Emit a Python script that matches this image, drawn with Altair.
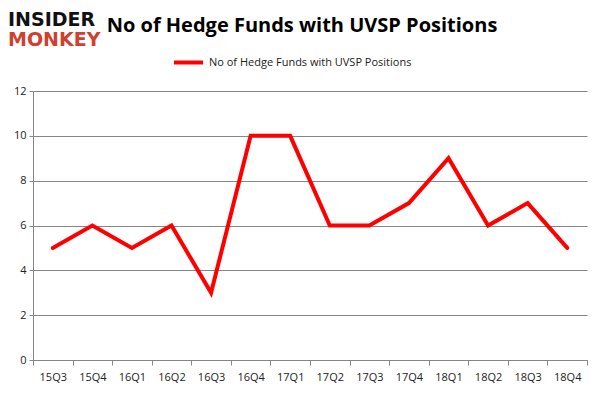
import altair as alt
import pandas as pd

quarters = ["15Q3", "15Q4", "16Q1", "16Q2", "16Q3", "16Q4", "17Q1",
            "17Q2", "17Q3", "17Q4", "18Q1", "18Q2", "18Q3", "18Q4"]
funds = [5, 6, 5, 6, 3, 10, 10, 6, 6, 7, 9, 6, 7, 5]
series_name = "No of Hedge Funds with UVSP Positions"
title_text = "No of Hedge Funds with UVSP Positions"

df = pd.DataFrame({"quarter": quarters, "funds": funds, "series": series_name})

line = alt.Chart(df).mark_line(strokeWidth=4, strokeJoin="miter", strokeCap="round").encode(
    x=alt.X("quarter:N", sort=quarters, title=None,
            scale=alt.Scale(type="band", paddingInner=0, paddingOuter=0),
            axis=alt.Axis(labelAngle=0, tickBand="extent", grid=False, domainColor="#868686",
                          tickColor="#868686", tickSize=5, labelFontSize=11, labelColor="#222222",
                          labelPadding=6, labelFont="Open Sans")),
    y=alt.Y("funds:Q", title=None,
            scale=alt.Scale(domain=[0, 12], nice=False),
            axis=alt.Axis(values=[0, 2, 4, 6, 8, 10, 12], grid=True, gridColor="#868686",
                          domainColor="#868686", tickColor="#868686", tickSize=4,
                          labelFontSize=11, labelColor="#222222", labelPadding=3,
                          labelFont="Open Sans")),
    color=alt.Color("series:N", scale=alt.Scale(range=["#ff0000"]),
                    legend=alt.Legend(title=None, orient="none", legendX=139, legendY=-45,
                                      symbolType="stroke", symbolSize=841, symbolStrokeWidth=4,
                                      labelFontSize=11, labelFont="Open Sans", labelColor="#222222",
                                      padding=0, labelOffset=4, labelLimit=0)),
)

title = alt.Chart(pd.DataFrame({"t": [title_text]})).mark_text(
    fontSize=20, fontWeight="bold", font="Open Sans", color="#000000", align="center", baseline="middle"
).encode(x=alt.value(269), y=alt.value(-65), text="t:N")

logo1 = alt.Chart(pd.DataFrame({"t": ["INSIDER"]})).mark_text(
    fontSize=19, fontWeight="bold", font="DejaVu Sans", color="#111111", align="left", baseline="middle"
).encode(x=alt.value(-25), y=alt.value(-71), text="t:N")

logo2 = alt.Chart(pd.DataFrame({"t": ["MONKEY"]})).mark_text(
    fontSize=19, fontWeight="bold", font="DejaVu Sans", color="#d0402e", align="left", baseline="middle"
).encode(x=alt.value(-25), y=alt.value(-51), text="t:N")

chart = alt.layer(line, title, logo1, logo2).properties(
    width=554, height=269,
    padding={"left": 25, "top": 83, "right": 6, "bottom": 28},
    autosize=alt.AutoSizeParams(type="none"),
).configure_view(stroke=None)

chart.save("out.html", embed_options={"renderer": "svg", "actions": False})
